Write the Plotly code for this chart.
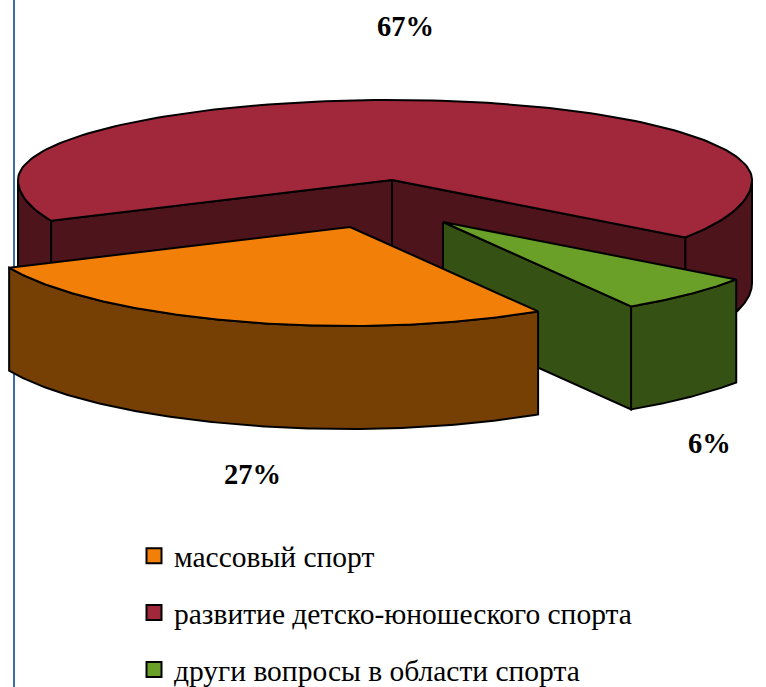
import numpy as np
import plotly.graph_objects as go

categories = ["массовый спорт", "развитие детско-юношеского спорта", "други вопросы в области спорта"]
values = [27, 66.6, 6.4]
labels = ["27%", "67%", "6%"]

top_colors = ["#F27F07", "#A1283A", "#6AA028"]
side_colors = ["#764004", "#4E141C", "#355214"]
apex = [(350, 227), (392, 180), (443, 222)]
label_pos = [(252, 474), (405, 26), (709, 443)]

W, H = 766, 687
START = 58.5
A_L, A_R, B_FRONT, B_BACK = 374, 360, 99, 80
DEPTH = 103
FONT = "Liberation Serif"

def rim(ap, t0, t1):
    t = np.radians(np.linspace(t0, t1, 160))
    c, s = np.cos(t), np.sin(t)
    return ap[0] + c * np.where(c < 0, A_L, A_R), ap[1] + s * np.where(s > 0, B_FRONT, B_BACK)

def poly(fig, xs, ys, color):
    fig.add_trace(go.Scatter(x=np.r_[xs, xs[0]], y=np.r_[ys, ys[0]], mode="lines", fill="toself",
                             fillcolor=color, line=dict(color="black", width=2), showlegend=False,
                             hoverinfo="skip"))

def wall(fig, xs, ys, color):
    poly(fig, np.r_[xs, xs[::-1]], np.r_[ys, ys[::-1] + DEPTH], color)

def cut(fig, ap, x, y, color):
    poly(fig, np.array([ap[0], x, x, ap[0]]), np.array([ap[1], y, y + DEPTH, ap[1] + DEPTH]), color)

edges = START + np.r_[0, np.cumsum(values)] * 3.6
fig = go.Figure()

def slice_rim(i):
    return rim(apex[i], edges[i], edges[i + 1])

# red slice (furthest back): only the front-facing parts of its rim have a visible wall
wall(fig, *rim(apex[1], edges[1], 180), side_colors[1])
wall(fig, *rim(apex[1], 360, edges[2]), side_colors[1])
x, y = slice_rim(1)
cut(fig, apex[1], x[0], y[0], side_colors[1])
cut(fig, apex[1], x[-1], y[-1], side_colors[1])
poly(fig, np.r_[apex[1][0], x], np.r_[apex[1][1], y], top_colors[1])

# green slice
x, y = slice_rim(2)
cut(fig, apex[2], x[-1], y[-1], side_colors[2])
wall(fig, x, y, side_colors[2])
poly(fig, np.r_[apex[2][0], x], np.r_[apex[2][1], y], top_colors[2])

# orange slice
x, y = slice_rim(0)
wall(fig, x, y, side_colors[0])
poly(fig, np.r_[apex[0][0], x], np.r_[apex[0][1], y], top_colors[0])

# legend entries
for i, name in enumerate(categories):
    fig.add_trace(go.Scatter(x=[None], y=[None], mode="markers", name=name, legendgroup=str(i),
                             marker=dict(symbol="square", size=15, color=top_colors[i],
                                         line=dict(color="black", width=2))))

for (lx, ly), text in zip(label_pos, labels):
    fig.add_annotation(x=lx, y=ly, text=f"<b>{text}</b>", showarrow=False,
                       font=dict(family=FONT, size=28.5, color="black"))

# page rule on the left of the chart
fig.add_shape(type="line", x0=14, x1=14, y0=0, y1=H, layer="below",
              line=dict(color="#3A6E9E", width=2))

fig.update_xaxes(range=[0, W], visible=False, fixedrange=True)
fig.update_yaxes(range=[H, 0], visible=False, fixedrange=True)
fig.update_layout(
    width=W, height=H, margin=dict(l=0, r=0, t=0, b=0, autoexpand=False),
    plot_bgcolor="white", paper_bgcolor="white",
    font=dict(family=FONT, size=29.5, color="black"),
    legend=dict(x=134 / W, y=1 - 530 / H, xanchor="left", yanchor="top", tracegroupgap=15.5,
                bgcolor="rgba(0,0,0,0)", font=dict(family=FONT, size=29.5, color="black")),
)
fig.write_html("out.html", config={"displayModeBar": False},
               post_script="document.body.style.margin='0';document.body.style.overflow='hidden';")
